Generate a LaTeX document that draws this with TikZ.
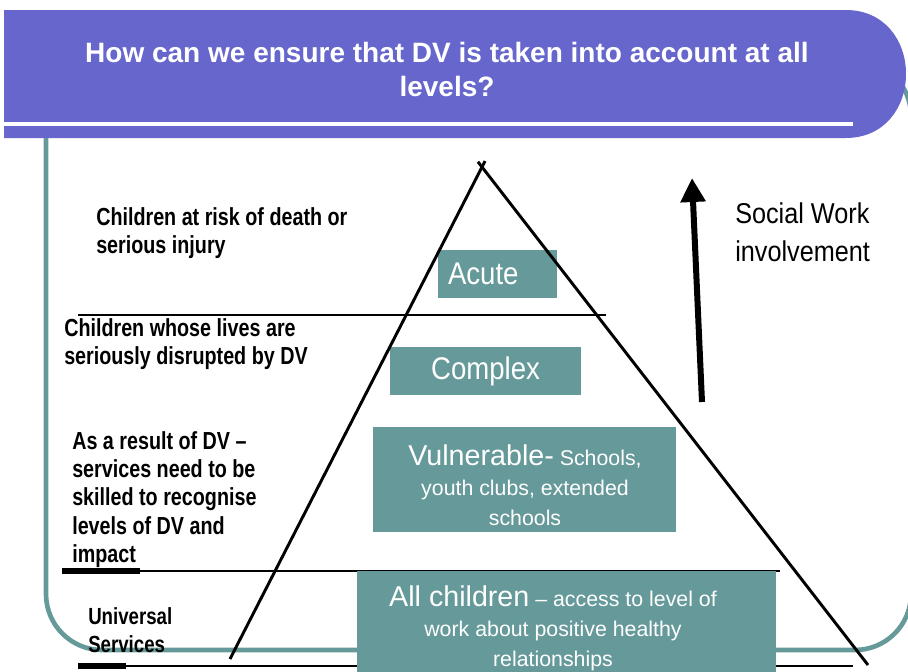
\documentclass[tikz,border=0pt]{standalone}
\usepackage{fontspec}
\setmainfont{Liberation Sans}
\newfontfamily\sidefont{Liberation Sans}[FakeStretch=0.8]
\newfontfamily\narrowfont{Liberation Sans}[FakeStretch=0.88]
\usetikzlibrary{arrows.meta}
\definecolor{headblue}{HTML}{6666CC}
\definecolor{tealgrey}{HTML}{669999}

\begin{document}
\begin{tikzpicture}[x=0.75pt,y=-0.75pt,
  divider/.style={line width=2.2pt},
  tealbox/.style={fill=tealgrey,text=white,inner sep=0pt,align=center},
  sidetext/.style={font=\sidefont\bfseries\fontsize{18.5}{21.3}\selectfont,align=left,anchor=north west,inner sep=0pt},
  boxtext/.style={text=white,align=center,inner sep=0pt,font=\fontsize{16}{22.5}\selectfont}]
\useasboundingbox (0,0) rectangle (908,672);
  \coordinate (apex) at (482,167);
  \coordinate (baseL) at (230,659);
  \coordinate (baseR) at (868,665);
  \coordinate (swlow) at (702,402);
  \coordinate (swtop) at (692,178);
% frame and heading
\draw[tealgrey,line width=3.5pt,rounded corners=42pt] (46,60) rectangle (911,650);
\fill[headblue] (4,10) -- (846,10) .. controls (884,10) and (906,40) .. (906,74)
  .. controls (906,108) and (884,138) .. (846,138) -- (4,138) -- cycle;
\draw[white,line width=3pt] (4,124) -- (853,124);
\node[text=white,align=center,inner sep=0pt,font=\bfseries\fontsize{21}{25.5}\selectfont] (title) at (447,69)
  {How can we ensure that DV is taken into account at all\\levels?};
% levels
\draw[divider] (78,315) -- (606,315);
\draw[divider] (62,571) -- (780,571);
\draw[line width=5pt] (62,571) -- (140,571);
\draw[divider] (78,666) -- (853,666);
\draw[line width=5pt] (78,666) -- (126,666);
\node[sidetext] (risk) at (96,207) {Children at risk of death or\\serious injury};
\node[sidetext] (disrupt) at (64,318) {Children whose lives are\\seriously disrupted by DV};
\node[sidetext] (result) at (72,431) {As a result of DV –\\services need to be\\skilled to recognise\\levels of DV and\\impact};
\node[sidetext,font=\sidefont\bfseries\fontsize{17.5}{21}\selectfont] (universal) at (88,607) {Universal\\Services};
% boxes
\node[tealbox,minimum width=89.25pt,minimum height=36pt,text width=74.25pt,align=left,
  font=\narrowfont\fontsize{23.5}{24}\selectfont] (acute) at (497.5,274) {Acute};
\node[tealbox,minimum width=143.25pt,minimum height=36pt,font=\narrowfont\fontsize{23.5}{24}\selectfont] (complex) at (485.5,371) {Complex};
\node[tealbox,minimum width=227.25pt,minimum height=78.75pt] (vuln) at (524.5,479.5) {};
\node[boxtext] (vulntext) at (525,485)
  {{\fontsize{21.5}{22.5}\selectfont Vulnerable-} Schools,\\youth clubs, extended\\schools};
\node[tealbox,minimum width=314.25pt,minimum height=81.75pt] (allkids) at (566.5,625.5) {};
\node[boxtext] (allkidstext) at (553,628)
  {{\fontsize{21.5}{22.5}\selectfont All children} – access to level of\\work about positive healthy\\relationships};
% pyramid
\draw[divider,shorten <=-5pt] (apex) -- (baseL);
\draw[divider,shorten <=-5pt] (apex) -- (baseR);
% social work arrow
\draw[line width=4.5pt,-{Triangle[length=18pt,width=18pt]}] (swlow) -- (swtop);
\node[anchor=west,align=left,inner sep=0pt,font=\narrowfont\fontsize{21.5}{28.5}\selectfont] (social) at (735,232)
  {Social Work\\involvement};
\end{tikzpicture}
\end{document}
